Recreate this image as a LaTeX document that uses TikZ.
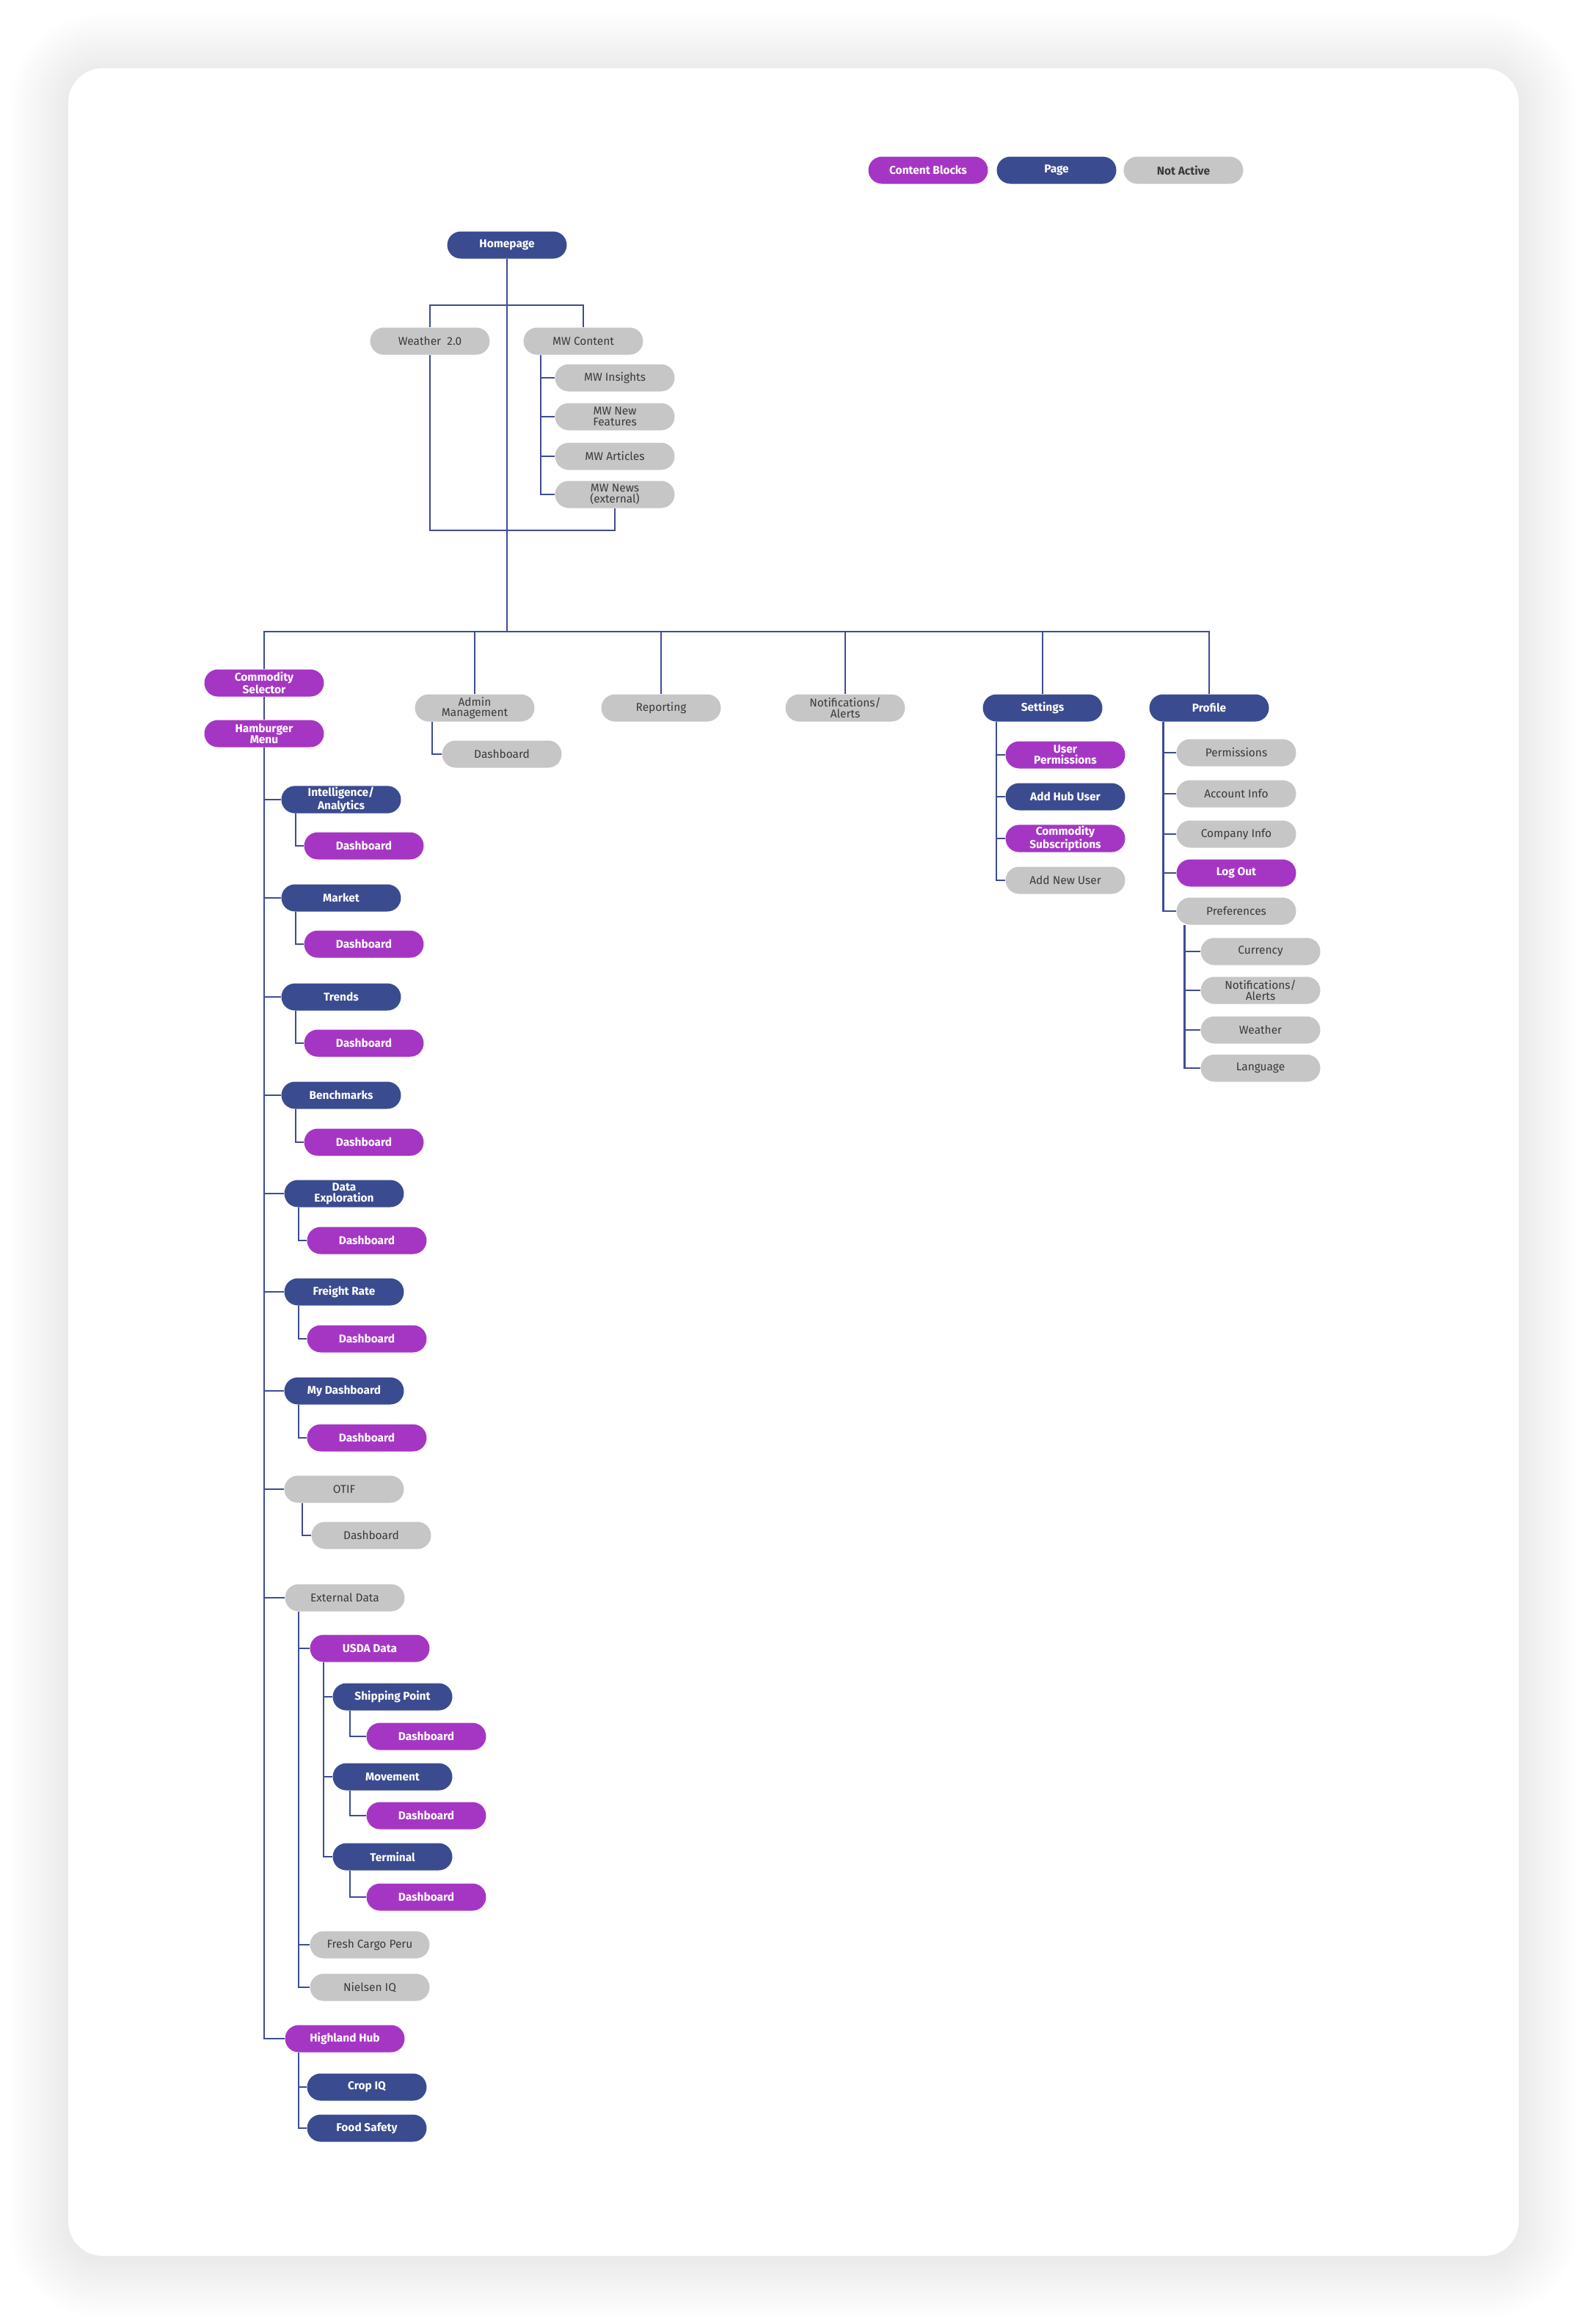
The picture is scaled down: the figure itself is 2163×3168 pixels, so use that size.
\documentclass[tikz,border=0pt]{standalone}
\usepackage{fontspec}
\setmainfont{Fira Sans}
\usetikzlibrary{calc}
\definecolor{blockpurple}{HTML}{A536C4}
\definecolor{pagenavy}{HTML}{3B4B8F}
\definecolor{offgray}{HTML}{C6C6C6}
\definecolor{offtext}{HTML}{3A3A3A}
\definecolor{linknavy}{HTML}{3E4C94}

\begin{document}
\begin{tikzpicture}[x=0.02cm, y=-0.02cm,
  box/.style={rectangle, rounded corners=0.37cm, minimum width=3.26cm,
    minimum height=0.74cm, inner sep=1pt, align=center},
  blockbox/.style={box, fill=blockpurple, text=white,
    font=\fontsize{8.8}{8.4}\selectfont\bfseries},
  pagebox/.style={box, fill=pagenavy, text=white,
    font=\fontsize{8.8}{8.4}\selectfont\bfseries},
  offbox/.style={box, fill=offgray, text=offtext,
    font=\fontsize{8.8}{8.4}\selectfont},
  link/.style={draw=linknavy, line width=1.5pt}]
  \useasboundingbox (0,0) rectangle (2163,3168);
  \fill[white] (0,0) rectangle (2163,3168);
  % card with soft shadow
  \foreach \i [evaluate=\i as \r using 0.94+0.08*\i] in {1,...,20}
    \fill[black, opacity=0.0045, rounded corners=\r cm]
      ({93-4*\i},{98-4*\i}) rectangle ({2070+4*\i},{3080+4*\i});
  \fill[white, rounded corners=0.94cm] (93,93) rectangle (2070,3075);

  % legend
  \node[blockbox] (key-block) at (1265,232) {Content Blocks};
  \node[pagebox] (key-page) at (1440,232) {Page};
  \node[offbox, font=\fontsize{8.8}{8.4}\selectfont\bfseries] (key-off) at (1613,232) {Not Active};

  % homepage and content
  \node[pagebox] (home) at (691,334) {Homepage};
  \node[offbox] (weather) at (586,465) {Weather~ 2.0};
  \node[offbox] (mwc) at (795,465) {MW Content};
  \node[offbox] (insights) at (838,515) {MW Insights};
  \node[offbox] (features) at (838,568) {MW New\\Features};
  \node[offbox] (articles) at (838,622) {MW Articles};
  \node[offbox] (news) at (838,674) {MW News\\(external)};
  \coordinate (split) at (691,416);
  \coordinate (join) at (691,723);
  \coordinate (bus) at (691,861);
  \draw[link] (home.south) -- (bus);
  \draw[link] (weather.north) |- (split) -| (mwc.north);
  \draw[link] (weather.south) |- (join) -| (news.south);
  \coordinate (mwcspine) at ($(mwc.south west)+(24,0)$);
  \draw[link] (mwcspine) |- (news.west);
  \foreach \n in {insights,features,articles}
    \draw[link] (mwcspine |- \n.west) -- (\n.west);

  % second level
  \node[blockbox] (select) at (360,931) {Commodity\\Selector};
  \node[blockbox] (menu) at (360,1000) {Hamburger\\Menu};
  \node[offbox] (admin) at (647,965) {Admin\\Management};
  \node[offbox] (admin-d) at (684,1028) {Dashboard};
  \node[offbox] (report) at (901,965) {Reporting};
  \node[offbox] (notify) at (1152,965) {Notifications/\\Alerts};
  \node[pagebox] (settings) at (1421,965) {Settings};
  \node[pagebox] (profile) at (1648,965) {Profile};
  \draw[link] (select.north) |- (bus) -| (profile.north);
  \foreach \n in {admin,report,notify,settings}
    \draw[link] (\n.north) -- (\n.north |- bus);
  \draw[link] (select) -- (menu);
  \draw[link] ($(admin.south west)+(24,0)$) |- (admin-d.west);

  % settings
  \node[blockbox] (userperm) at (1452,1029) {User\\Permissions};
  \node[pagebox] (addhub) at (1452,1086) {Add Hub User};
  \node[blockbox] (commsub) at (1452,1143) {Commodity\\Subscriptions};
  \node[offbox] (addnew) at (1452,1200) {Add New User};
  \coordinate (setspine) at ($(settings.south west)+(19,0)$);
  \draw[link] (setspine) |- (addnew.west);
  \foreach \n in {userperm,addhub,commsub}
    \draw[link] (setspine |- \n.west) -- (\n.west);

  % profile
  \node[offbox] (perms) at (1685,1026) {Permissions};
  \node[offbox] (account) at (1685,1082) {Account Info};
  \node[offbox] (company) at (1685,1137) {Company Info};
  \node[blockbox] (logout) at (1685,1190) {Log Out};
  \node[offbox] (prefs) at (1685,1242) {Preferences};
  \node[offbox] (currency) at (1718,1297) {Currency};
  \node[offbox] (alerts) at (1718,1350) {Notifications/\\Alerts};
  \node[offbox] (weatherpref) at (1718,1404) {Weather};
  \node[offbox] (language) at (1718,1456) {Language};
  \coordinate (profspine) at ($(profile.south west)+(19,0)$);
  \draw[link] (profspine) |- (prefs.west);
  \foreach \n in {perms,account,company,logout}
    \draw[link] (profspine |- \n.west) -- (\n.west);
  \coordinate (prefspine) at ($(prefs.south west)+(11,0)$);
  \draw[link] (prefspine) |- (language.west);
  \foreach \n in {currency,alerts,weatherpref}
    \draw[link] (prefspine |- \n.west) -- (\n.west);

  % hamburger menu
  \node[pagebox] (intel) at (465,1090) {Intelligence/\\Analytics};
  \node[blockbox] (intel-d) at (496,1153) {Dashboard};
  \node[pagebox] (market) at (465,1224) {Market};
  \node[blockbox] (market-d) at (496,1287) {Dashboard};
  \node[pagebox] (trends) at (465,1359) {Trends};
  \node[blockbox] (trends-d) at (496,1422) {Dashboard};
  \node[pagebox] (bench) at (465,1493) {Benchmarks};
  \node[blockbox] (bench-d) at (496,1557) {Dashboard};
  \node[pagebox] (explore) at (469,1627) {Data\\Exploration};
  \node[blockbox] (explore-d) at (500,1691) {Dashboard};
  \node[pagebox] (freight) at (469,1761) {Freight Rate};
  \node[blockbox] (freight-d) at (500,1825) {Dashboard};
  \node[pagebox] (mydash) at (469,1896) {My Dashboard};
  \node[blockbox] (mydash-d) at (500,1960) {Dashboard};
  \node[offbox] (otif) at (469,2030) {OTIF};
  \node[offbox] (otif-d) at (506,2093) {Dashboard};
  \node[offbox] (extdata) at (470,2178) {External Data};
  \node[blockbox] (usda) at (504,2247) {USDA Data};
  \node[pagebox] (ship) at (535,2313) {Shipping Point};
  \node[blockbox] (ship-d) at (581,2367) {Dashboard};
  \node[pagebox] (move) at (535,2422) {Movement};
  \node[blockbox] (move-d) at (581,2475) {Dashboard};
  \node[pagebox] (term) at (535,2531) {Terminal};
  \node[blockbox] (term-d) at (581,2586) {Dashboard};
  \node[offbox] (fresh) at (504,2651) {Fresh Cargo Peru};
  \node[offbox] (nielsen) at (504,2709) {Nielsen IQ};
  \node[blockbox] (hub) at (470,2779) {Highland Hub};
  \node[pagebox] (crop) at (500,2845) {Crop IQ};
  \node[pagebox] (food) at (500,2901) {Food Safety};

  \draw[link] (menu.south) |- (hub.west);
  \foreach \n in {intel,market,trends,bench,explore,freight,mydash,otif,extdata}
    \draw[link] (menu.south |- \n.west) -- (\n.west);
  \foreach \n in {intel,market,trends,bench,explore,freight,mydash}
    \draw[link] ($(\n.south west)+(20,0)$) |- (\n-d.west);
  \draw[link] ($(otif.south west)+(25,0)$) |- (otif-d.west);
  % external data
  \coordinate (extspine) at ($(extdata.south west)+(19,0)$);
  \draw[link] (extspine) |- (nielsen.west);
  \foreach \n in {usda,fresh}
    \draw[link] (extspine |- \n.west) -- (\n.west);
  \coordinate (usdaspine) at ($(usda.south west)+(19,0)$);
  \draw[link] (usdaspine) |- (term.west);
  \foreach \n in {ship,move}
    \draw[link] (usdaspine |- \n.west) -- (\n.west);
  \foreach \n in {ship,move,term}
    \draw[link] ($(\n.south west)+(24,0)$) |- (\n-d.west);
  % highland hub
  \coordinate (hubspine) at ($(hub.south west)+(19,0)$);
  \draw[link] (hubspine) |- (food.west);
  \draw[link] (hubspine |- crop.west) -- (crop.west);
\end{tikzpicture}
\end{document}
